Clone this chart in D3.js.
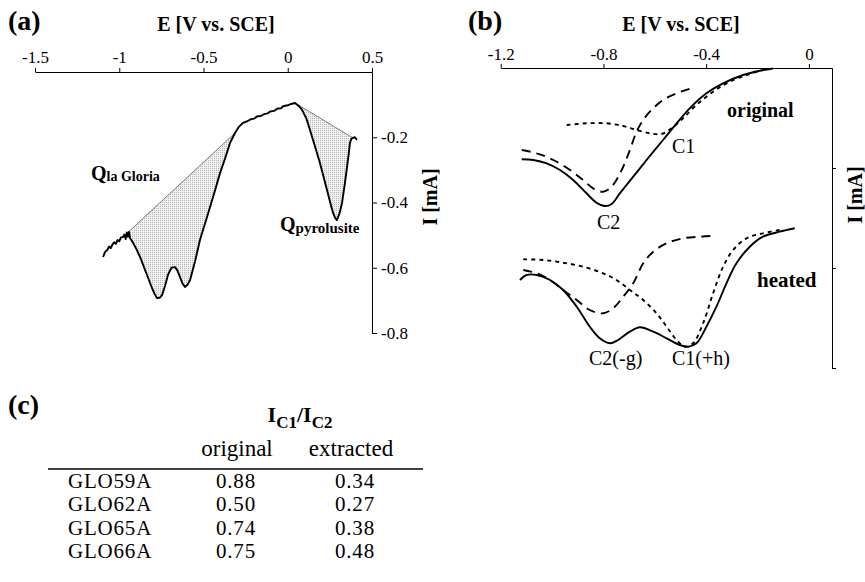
<!DOCTYPE html>
<html lang="en">
<head>
<meta charset="UTF-8">
<title>Voltammograms la Gloria</title>
<script src="https://cdn.jsdelivr.net/npm/d3@7/dist/d3.min.js"></script>
<style>
  body { margin: 0; background: #fff; }
  svg text { font-family: "Liberation Serif", "Times New Roman", serif; fill: #000; }
  .axis path, .axis line { stroke: #000; stroke-width: 1; }
  .axis text { font-size: 17px; font-family: "Liberation Serif", serif; }
</style>
</head>
<body>
<script>
// ---- panel (a): one voltammogram, E [V] and I [mA]
var curveA_E = [-1.096, -1.085, -1.070, -1.060, -1.050, -1.040, -1.030, -1.020, -1.010, -1.000, -0.990,
  -0.978, -0.970, -0.962, -0.955, -0.948, -0.942, -0.936, -0.920, -0.895, -0.870, -0.847, -0.825, -0.806,
  -0.790, -0.776, -0.760, -0.746, -0.728, -0.711, -0.690, -0.669, -0.655, -0.640, -0.625, -0.610, -0.595,
  -0.580, -0.550, -0.521, -0.490, -0.461, -0.430, -0.402, -0.370, -0.343, -0.313, -0.290, -0.266, -0.240,
  -0.220, -0.200, -0.182, -0.160, -0.140, -0.120, -0.105, -0.080, -0.060, -0.040, -0.028, 0.000, 0.020,
  0.043, 0.065, 0.085, 0.110, 0.132, 0.160, 0.191, 0.212, 0.233, 0.252, 0.269, 0.282, 0.292, 0.308,
  0.322, 0.338, 0.352, 0.362, 0.369, 0.378, 0.387, 0.398, 0.411];
var curveA_I = [-0.567, -0.552, -0.545, -0.535, -0.540, -0.528, -0.522, -0.527, -0.515, -0.519, -0.507,
  -0.506, -0.498, -0.512, -0.492, -0.505, -0.490, -0.509, -0.522, -0.546, -0.575, -0.607, -0.636, -0.662,
  -0.680, -0.693, -0.692, -0.684, -0.655, -0.622, -0.600, -0.598, -0.608, -0.628, -0.648, -0.659, -0.652,
  -0.638, -0.580, -0.515, -0.463, -0.414, -0.360, -0.310, -0.262, -0.218, -0.187, -0.168, -0.156, -0.151,
  -0.145, -0.143, -0.136, -0.135, -0.129, -0.127, -0.121, -0.119, -0.112, -0.111, -0.105, -0.102, -0.098,
  -0.095, -0.104, -0.116, -0.142, -0.178, -0.225, -0.279, -0.320, -0.362, -0.400, -0.432, -0.448, -0.454,
  -0.432, -0.402, -0.345, -0.291, -0.250, -0.218, -0.204, -0.202, -0.200, -0.208];
var laGloriaBase = [[-0.978, -0.506], [-0.313, -0.187]];
var pyroBase = [[0.043, -0.095], [0.387, -0.202]];
var aTicksE = [-1.5, -1, -0.5, 0, 0.5];
var aTicksI = [-0.2, -0.4, -0.6, -0.8];

// ---- panel (b): original and heated samples, three curves each
var origSolidE = [-1.118, -1.073, -1.021, -0.969, -0.918, -0.866, -0.827, -0.794, -0.768, -0.736, -0.684,
  -0.632, -0.568, -0.515, -0.464, -0.399, -0.334, -0.256, -0.191, -0.140];
var origSolidI = [-0.913, -0.92, -0.953, -1.02, -1.12, -1.253, -1.347, -1.38, -1.36, -1.253, -1.087,
  -0.92, -0.72, -0.553, -0.403, -0.253, -0.153, -0.07, -0.027, -0.005];
var origLongE = [-1.118, -1.060, -0.995, -0.930, -0.879, -0.840, -0.801, -0.768, -0.729, -0.697, -0.671,
  -0.645, -0.613, -0.568, -0.515, -0.457];
var origLongI = [-0.82, -0.853, -0.92, -1.02, -1.12, -1.203, -1.237, -1.187, -1.02, -0.82, -0.637,
  -0.52, -0.42, -0.32, -0.253, -0.203];
var origShortE = [-0.943, -0.865, -0.788, -0.723, -0.671, -0.619, -0.574, -0.535, -0.490, -0.438, -0.373,
  -0.308, -0.243, -0.179];
var origShortI = [-0.57, -0.553, -0.553, -0.58, -0.62, -0.653, -0.66, -0.603, -0.503, -0.37, -0.237,
  -0.137, -0.07, -0.02];
var heatSolidE = [-1.125, -1.099, -1.060, -1.008, -0.957, -0.904, -0.853, -0.814, -0.775, -0.743, -0.697,
  -0.658, -0.606, -0.554, -0.503, -0.470, -0.438, -0.399, -0.360, -0.321, -0.282, -0.230, -0.179, -0.114,
  -0.055];
var heatSolidI = [-2.12, -2.07, -2.07, -2.12, -2.22, -2.387, -2.587, -2.703, -2.753, -2.72, -2.637,
  -2.593, -2.637, -2.703, -2.77, -2.787, -2.753, -2.587, -2.387, -2.153, -1.953, -1.787, -1.687, -1.637,
  -1.603];
var heatLongE = [-1.112, -1.060, -1.008, -0.957, -0.904, -0.853, -0.801, -0.762, -0.723, -0.684, -0.645,
  -0.606, -0.554, -0.490, -0.425, -0.379];
var heatLongI = [-2.02, -2.053, -2.12, -2.22, -2.32, -2.42, -2.453, -2.403, -2.287, -2.153, -1.953,
  -1.837, -1.753, -1.703, -1.687, -1.68];
var heatShortE = [-1.112, -1.034, -0.957, -0.879, -0.801, -0.749, -0.697, -0.645, -0.593, -0.554, -0.515,
  -0.483, -0.451, -0.412, -0.373, -0.334, -0.295, -0.243, -0.179, -0.114];
var heatShortI = [-1.913, -1.92, -1.947, -1.987, -2.053, -2.12, -2.22, -2.32, -2.453, -2.587, -2.72,
  -2.787, -2.753, -2.553, -2.253, -1.987, -1.82, -1.703, -1.653, -1.62];
var bTicksE = [-1.2, -0.8, -0.4, 0];
var bTicksI = [-1, -2, -3];

// ---- panel (c): I_C1 / I_C2 ratios
var samples = ["GLO59A", "GLO62A", "GLO65A", "GLO66A"];
var ratioOriginal = [0.88, 0.50, 0.74, 0.75];
var ratioExtracted = [0.34, 0.27, 0.38, 0.48];

var width = 865, height = 582;
var svg = d3.select("body").append("svg").attr("width", width).attr("height", height);

// stipple pattern for the charge areas
var pat = svg.append("defs").append("pattern")
  .attr("id", "dots").attr("width", 2).attr("height", 2).attr("patternUnits", "userSpaceOnUse");
pat.append("rect").attr("width", 2).attr("height", 2).attr("fill", "#f1f1f1");
pat.append("rect").attr("width", 1).attr("height", 1).attr("fill", "#b4b4b4");

function zip(xs, ys) { return xs.map(function (x, i) { return [x, ys[i]]; }); }

// ================= (a)
var xA = d3.scaleLinear().domain([-1.5, 0.5]).range([35, 372]);
var yA = d3.scaleLinear().domain([0, -0.8]).range([72, 333]);
var lineA = d3.line().x(function (d) { return xA(d[0]); }).y(function (d) { return yA(d[1]); });
var ptsA = zip(curveA_E, curveA_I);

function between(base) {
  return ptsA.filter(function (d) { return d[0] >= base[0][0] - 1e-9 && d[0] <= base[1][0] + 1e-9; });
}
[laGloriaBase, pyroBase].forEach(function (base) {
  svg.append("path").attr("d", lineA(between(base)) + "Z").attr("fill", "url(#dots)").attr("stroke", "none");
  svg.append("path").attr("d", lineA(base)).attr("fill", "none").attr("stroke", "#444").attr("stroke-width", 0.7);
});
svg.append("path").attr("d", lineA(ptsA)).attr("fill", "none").attr("stroke", "#000")
  .attr("stroke-width", 1.9).attr("stroke-linejoin", "round");

svg.append("g").attr("class", "axis").attr("transform", "translate(0," + yA(0) + ")")
  .call(d3.axisTop(xA).tickValues(aTicksE).tickSize(4).tickSizeOuter(0).tickPadding(5)
    .tickFormat(function (d) { return String(d); }));
svg.append("g").attr("class", "axis").attr("transform", "translate(" + xA(0.5) + ",0)")
  .call(d3.axisRight(yA).tickValues(aTicksI).tickSize(5).tickSizeOuter(0).tickPadding(4)
    .tickFormat(function (d) { return String(d); }));
svg.selectAll(".axis text").attr("font-family", "Liberation Serif").attr("font-size", 17);

svg.append("text").attr("x", 8).attr("y", 30).attr("font-size", 28).attr("font-weight", "bold").text("(a)");
svg.append("text").attr("x", 216).attr("y", 31).attr("text-anchor", "middle").attr("font-size", 20)
  .attr("font-weight", "bold").text("E [V vs. SCE]");
svg.append("text").attr("transform", "translate(437,197) rotate(-90)").attr("text-anchor", "middle")
  .attr("font-size", 20).attr("font-weight", "bold").text("I [mA]");

var qa = svg.append("text").attr("x", 91).attr("y", 180).attr("font-weight", "bold");
qa.append("tspan").attr("font-size", 20).text("Q");
qa.append("tspan").attr("font-size", 14).attr("dy", 1).text("la Gloria");
var qp = svg.append("text").attr("x", 280).attr("y", 231).attr("font-weight", "bold");
qp.append("tspan").attr("font-size", 20).text("Q");
qp.append("tspan").attr("font-size", 15).attr("dy", 2).text("pyrolusite");

// ================= (b)
var xB = d3.scaleLinear().domain([-1.2, 0.09]).range([500.7, 832]);
var yB = d3.scaleLinear().domain([0, -3]).range([68, 368]);
var lineB = d3.line().curve(d3.curveCatmullRom)
  .x(function (d) { return xB(d[0]); }).y(function (d) { return yB(d[1]); });

var curvesB = [
  { e: origSolidE, i: origSolidI, dash: null },
  { e: origLongE, i: origLongI, dash: "9,6" },
  { e: origShortE, i: origShortI, dash: "4,4" },
  { e: heatSolidE, i: heatSolidI, dash: null },
  { e: heatLongE, i: heatLongI, dash: "9,6" },
  { e: heatShortE, i: heatShortI, dash: "4,4" }
];
svg.selectAll("path.cb").data(curvesB).enter().append("path").attr("class", "cb")
  .attr("d", function (c) { return lineB(zip(c.e, c.i)); })
  .attr("fill", "none").attr("stroke", "#000").attr("stroke-width", 1.9)
  .attr("stroke-dasharray", function (c) { return c.dash; });

svg.append("g").attr("class", "axis").attr("transform", "translate(0," + yB(0) + ")")
  .call(d3.axisTop(xB).tickValues(bTicksE).tickSize(4).tickSizeOuter(0).tickPadding(4)
    .tickFormat(function (d) { return String(d); }));
svg.append("g").attr("class", "axis").attr("transform", "translate(" + xB(0.09) + ",0)")
  .call(d3.axisRight(yB).tickValues(bTicksI).tickSize(4).tickSizeOuter(0).tickFormat(""));
svg.selectAll(".axis text").attr("font-family", "Liberation Serif").attr("font-size", 17);

svg.append("text").attr("x", 468).attr("y", 30).attr("font-size", 28).attr("font-weight", "bold").text("(b)");
svg.append("text").attr("x", 681).attr("y", 31).attr("text-anchor", "middle").attr("font-size", 20)
  .attr("font-weight", "bold").text("E [V vs. SCE]");
svg.append("text").attr("transform", "translate(862,195) rotate(-90)").attr("text-anchor", "middle")
  .attr("font-size", 20).attr("font-weight", "bold").text("I [mA]");

svg.append("text").attr("x", 727).attr("y", 117).attr("font-size", 20).attr("font-weight", "bold").text("original");
svg.append("text").attr("x", 757).attr("y", 287).attr("font-size", 21).attr("font-weight", "bold").text("heated");
svg.append("text").attr("x", 672).attr("y", 153).attr("font-size", 20).text("C1");
svg.append("text").attr("x", 597).attr("y", 229).attr("font-size", 20).text("C2");
svg.append("text").attr("x", 589).attr("y", 365).attr("font-size", 20).text("C2(-g)");
svg.append("text").attr("x", 672).attr("y", 365).attr("font-size", 20).text("C1(+h)");

// ================= (c)
svg.append("text").attr("x", 8).attr("y", 414).attr("font-size", 28).attr("font-weight", "bold").text("(c)");
var ti = svg.append("text").attr("x", 300).attr("y", 422).attr("text-anchor", "middle").attr("font-weight", "bold");
ti.append("tspan").attr("font-size", 22).text("I");
ti.append("tspan").attr("font-size", 17).attr("dy", 6).text("C1");
ti.append("tspan").attr("font-size", 22).attr("dy", -6).text("/I");
ti.append("tspan").attr("font-size", 17).attr("dy", 6).text("C2");

var colX = { name: 68, orig: 236, extr: 355 };
svg.append("text").attr("x", 237).attr("y", 456).attr("text-anchor", "middle").attr("font-size", 23).text("original");
svg.append("text").attr("x", 351).attr("y", 456).attr("text-anchor", "middle").attr("font-size", 23).text("extracted");
svg.append("line").attr("x1", 48).attr("x2", 423).attr("y1", 469).attr("y2", 469)
  .attr("stroke", "#000").attr("stroke-width", 1.5);

var yRow = d3.scaleLinear().domain([0, 3]).range([488, 558]);
var rows = svg.selectAll("g.row").data(samples).enter().append("g").attr("class", "row")
  .attr("transform", function (d, i) { return "translate(0," + yRow(i) + ")"; });
rows.append("text").attr("x", colX.name).attr("font-size", 21).attr("letter-spacing", 0.8)
  .text(function (d) { return d; });
rows.append("text").attr("x", colX.orig).attr("text-anchor", "middle").attr("font-size", 21)
  .attr("letter-spacing", 0.8).text(function (d, i) { return ratioOriginal[i].toFixed(2); });
rows.append("text").attr("x", colX.extr).attr("text-anchor", "middle").attr("font-size", 21)
  .attr("letter-spacing", 0.8).text(function (d, i) { return ratioExtracted[i].toFixed(2); });
</script>
</body>
</html>
